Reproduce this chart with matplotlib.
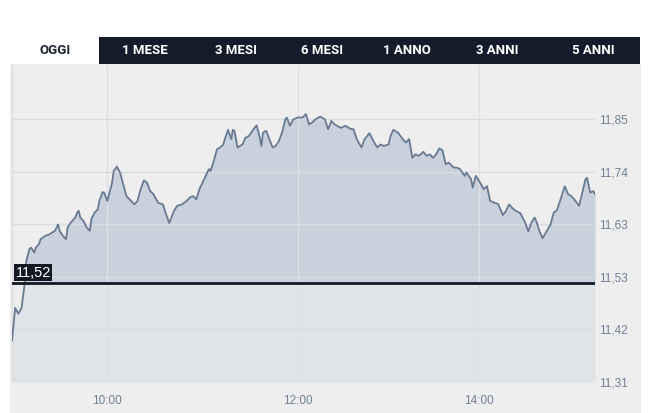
import matplotlib
matplotlib.use("Agg")
import matplotlib.pyplot as plt
from matplotlib.patches import Rectangle

# ---- data -------------------------------------------------------------
minutes = [0, 2, 4, 6, 8, 9, 11, 12, 14, 15, 17, 18, 21, 23, 25, 27, 29, 30, 32, 34,
           35, 37, 40, 41, 42, 43, 45, 47, 49, 50, 52, 54, 55, 57, 58, 60, 63, 64, 66, 68,
           70, 72, 75, 77, 79, 81, 83, 85, 87, 89, 92, 95, 97, 99, 102, 104, 107, 110, 112, 114,
           116, 118, 122, 124, 125, 127, 129, 131, 133, 134, 136, 138, 139, 140, 142, 145, 147, 149, 152, 154,
           156, 157, 158, 160, 162, 164, 166, 168, 170, 172, 173, 175, 177, 180, 183, 185, 187, 189, 191, 194,
           197, 199, 201, 203, 207, 210, 213, 215, 217, 220, 222, 225, 228, 230, 232, 234, 237, 238, 240, 243,
           246, 248, 250, 252, 254, 256, 259, 261, 263, 265, 267, 269, 271, 273, 275, 278, 280, 282, 285, 286,
           289, 290, 292, 294, 297, 299, 301, 304, 306, 309, 311, 313, 315, 317, 320, 323, 325, 327, 329, 330,
           332, 334, 336, 339, 341, 343, 345, 348, 350, 352, 354, 357, 359, 361, 362, 364, 366, 367]
prices = [11.397, 11.464, 11.452, 11.464, 11.513, 11.560, 11.584, 11.587, 11.577, 11.587,
          11.594, 11.604, 11.611, 11.613, 11.617, 11.621, 11.634, 11.621, 11.611, 11.604,
          11.628, 11.638, 11.649, 11.658, 11.662, 11.648, 11.641, 11.628, 11.621, 11.645,
          11.658, 11.665, 11.682, 11.700, 11.699, 11.682, 11.719, 11.743, 11.752, 11.740,
          11.716, 11.692, 11.682, 11.675, 11.682, 11.706, 11.724, 11.719, 11.702, 11.696,
          11.678, 11.675, 11.655, 11.637, 11.662, 11.672, 11.675, 11.682, 11.689, 11.692,
          11.685, 11.706, 11.733, 11.747, 11.743, 11.763, 11.787, 11.791, 11.797, 11.808,
          11.827, 11.808, 11.827, 11.825, 11.791, 11.797, 11.811, 11.814, 11.828, 11.836,
          11.811, 11.794, 11.821, 11.825, 11.808, 11.791, 11.794, 11.804, 11.821, 11.848,
          11.852, 11.835, 11.848, 11.852, 11.852, 11.859, 11.838, 11.842, 11.848, 11.854,
          11.848, 11.828, 11.845, 11.838, 11.831, 11.835, 11.829, 11.828, 11.808, 11.791,
          11.808, 11.820, 11.801, 11.791, 11.797, 11.794, 11.797, 11.811, 11.827, 11.821,
          11.808, 11.801, 11.808, 11.770, 11.777, 11.774, 11.782, 11.774, 11.777, 11.770,
          11.777, 11.789, 11.785, 11.757, 11.760, 11.750, 11.750, 11.747, 11.733, 11.740,
          11.726, 11.709, 11.733, 11.723, 11.706, 11.712, 11.682, 11.678, 11.676, 11.653,
          11.662, 11.675, 11.667, 11.662, 11.657, 11.638, 11.620, 11.638, 11.648, 11.641,
          11.621, 11.606, 11.617, 11.634, 11.658, 11.663, 11.682, 11.712, 11.696, 11.692,
          11.685, 11.672, 11.699, 11.726, 11.729, 11.699, 11.702, 11.696]
prev_close = 11.515
prev_close_label = "11,52"
y_ticks = [11.313, 11.420, 11.527, 11.634, 11.741, 11.848]
y_tick_labels = ["11,31", "11,42", "11,53", "11,63", "11,74", "11,85"]
x_ticks = [60, 180, 294]
x_tick_labels = ["10:00", "12:00", "14:00"]
tabs = ["OGGI", "1 MESE", "3 MESI", "6 MESI", "1 ANNO", "3 ANNI", "5 ANNI"]
tab_centers_px = [55, 145, 236, 322, 407, 497, 593]

# ---- figure -----------------------------------------------------------
W, H = 651, 413
fig = plt.figure(figsize=(W / 100, H / 100), dpi=100)
fig.patch.set_facecolor("white")

def fx(px):
    return px / W

def fy(py):
    return (H - py) / H

# grey panel
fig.patches.append(Rectangle((fx(10), 0), fx(641) - fx(10), fy(64), transform=fig.transFigure,
                             facecolor="#eeeeee", edgecolor="none", zorder=-10))
# dark tab bar
fig.patches.append(Rectangle((fx(99), fy(64)), fx(640) - fx(99), fy(37) - fy(64),
                             transform=fig.transFigure, facecolor="#141c2b", edgecolor="none", zorder=-10))
for i, (t, cx) in enumerate(zip(tabs, tab_centers_px)):
    fig.text(fx(cx), fy(50), t, ha="center", va="center", fontsize=9.5, fontweight="bold",
             family=["Roboto", "DejaVu Sans"],
             color="#1b2230" if i == 0 else "white")

# plot area
y_bottom_px, y_top_px = 382, 65
ppu = 490.7
ymin = y_ticks[0]
ymax = ymin + (y_bottom_px - y_top_px) / ppu
ax = fig.add_axes([fx(12), fy(y_bottom_px), fx(595) - fx(12), fy(y_top_px) - fy(y_bottom_px)])
ax.set_zorder(1)
ax.patch.set_visible(False)
ax.set_xlim(minutes[0], minutes[-1])
ax.set_ylim(ymin, ymax)

ax.fill_between(minutes, prices, ymin, color="#e0e3e7", lw=0, zorder=1)
ax.fill_between(minutes, prices, prev_close, where=[p > prev_close for p in prices],
                interpolate=True, color="#c9d2dc", lw=0, zorder=2)

for yv in y_ticks:
    ax.axhline(yv, color="#d8dce1", lw=1, zorder=3)
for xv in x_ticks:
    ax.axvline(xv, color="#dcdfe3", lw=1, zorder=3)

ax.plot(minutes, prices, color="#687a92", lw=1.3, zorder=4)
ax.axhline(prev_close, color="#131a26", lw=2, zorder=5)
ax.text(0.006, prev_close + 0.006, prev_close_label, transform=ax.get_yaxis_transform(),
        ha="left", va="bottom", fontsize=10.5, color="white", family=["Liberation Sans", "DejaVu Sans"],
        zorder=6, bbox=dict(boxstyle="square,pad=0.1", facecolor="#131a26", edgecolor="none"))

for s in ["top", "right", "bottom"]:
    ax.spines[s].set_visible(False)
ax.spines["left"].set_color("#dddddd")
ax.spines["left"].set_linewidth(1)

ax.yaxis.tick_right()
ax.set_yticks(y_ticks)
ax.set_yticklabels(y_tick_labels)
ax.set_xticks(x_ticks)
ax.set_xticklabels(x_tick_labels)
ax.tick_params(axis="y", length=0, pad=3, labelsize=8.5, labelcolor="#718095")
ax.tick_params(axis="x", length=0, pad=9, labelsize=8.5, labelcolor="#718095")
for lab in ax.get_xticklabels() + ax.get_yticklabels():
    lab.set_family(["Liberation Sans", "DejaVu Sans"])

fig.savefig("out.png", dpi=100)
